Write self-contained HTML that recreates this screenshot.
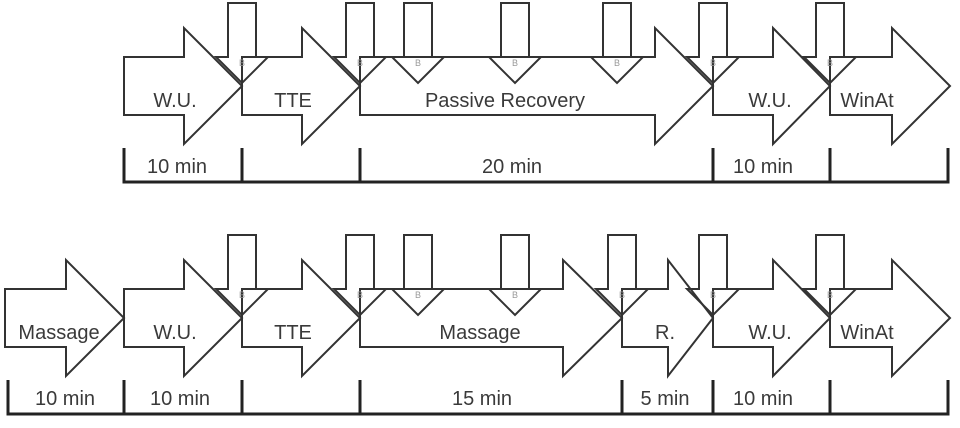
<!DOCTYPE html>
<html><head><meta charset="utf-8"><style>
html,body{margin:0;padding:0;background:#fff;}
svg{display:block;}
text{font-family:"Liberation Sans",sans-serif;fill:#3a3a3a;}
.a{fill:none;stroke:#333;stroke-width:2;stroke-linejoin:miter;}
.b{fill:none;stroke:#222;stroke-width:3;}
.l{font-size:20px;text-anchor:middle;}
.s{font-size:9px;fill:#999;text-anchor:middle;}
</style></head><body>
<svg width="960" height="428" viewBox="0 0 960 428" xmlns="http://www.w3.org/2000/svg">
<defs>
<g id="d"><path class="a" d="M-14 3V57H-26L0 83L26 57H14V3Z"/><text class="s" x="0" y="66">B</text></g>
</defs>
<g>
<path class="a" d="M124 57H184V28L242 86L184 144V115H124Z"/>
<path class="a" d="M242 57H302V28L360 86L302 144V115H242Z"/>
<path class="a" d="M360 57H655V28L713 86L655 144V115H360Z"/>
<path class="a" d="M713 57H773V28L830 86L773 144V115H713Z"/>
<path class="a" d="M830 57H892V28L950 86L892 144V115H830Z"/>
<text class="l" x="175" y="107">W.U.</text>
<text class="l" x="293" y="107">TTE</text>
<text class="l" x="505" y="107">Passive Recovery</text>
<text class="l" x="770" y="107">W.U.</text>
<text class="l" x="867" y="107">WinAt</text>
<use href="#d" x="242"/><use href="#d" x="360"/><use href="#d" x="418"/><use href="#d" x="515"/><use href="#d" x="617"/><use href="#d" x="713"/><use href="#d" x="830"/>
<path class="b" d="M124 148V182H948V148M242 148V182M360 148V182M713 148V182M830 148V182"/>
<text class="l" x="177" y="173">10 min</text>
<text class="l" x="512" y="173">20 min</text>
<text class="l" x="763" y="173">10 min</text>
</g>
<g transform="translate(0,232)">
<path class="a" d="M5 57H66V28L124 86L66 144V115H5Z"/>
<path class="a" d="M124 57H184V28L242 86L184 144V115H124Z"/>
<path class="a" d="M242 57H302V28L360 86L302 144V115H242Z"/>
<path class="a" d="M360 57H563V28L622 86L563 144V115H360Z"/>
<path class="a" d="M622 57H668V28L713 86L668 144V115H622Z"/>
<path class="a" d="M713 57H773V28L830 86L773 144V115H713Z"/>
<path class="a" d="M830 57H892V28L950 86L892 144V115H830Z"/>
<text class="l" x="59" y="107">Massage</text>
<text class="l" x="175" y="107">W.U.</text>
<text class="l" x="293" y="107">TTE</text>
<text class="l" x="480" y="107">Massage</text>
<text class="l" x="665" y="107">R.</text>
<text class="l" x="770" y="107">W.U.</text>
<text class="l" x="867" y="107">WinAt</text>
<use href="#d" x="242"/><use href="#d" x="360"/><use href="#d" x="418"/><use href="#d" x="515"/><use href="#d" x="622"/><use href="#d" x="713"/><use href="#d" x="830"/>
<path class="b" d="M8 148V182H948V148M124 148V182M242 148V182M360 148V182M622 148V182M713 148V182M830 148V182"/>
<text class="l" x="65" y="173">10 min</text>
<text class="l" x="180" y="173">10 min</text>
<text class="l" x="482" y="173">15 min</text>
<text class="l" x="665" y="173">5 min</text>
<text class="l" x="763" y="173">10 min</text>
</g>
</svg>
</body></html>
